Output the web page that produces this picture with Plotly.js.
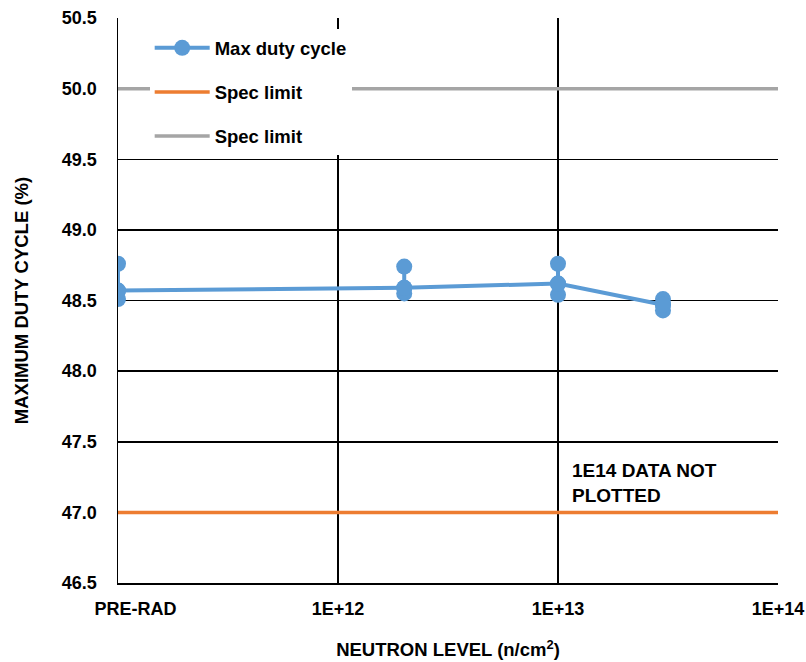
<!DOCTYPE html>
<html>
<head>
<meta charset="utf-8">
<script src="https://cdn.plot.ly/plotly-3.0.1.min.js"></script>
<style>html,body{margin:0;padding:0;background:#fff;}#chart{width:806px;height:662px;}</style>
</head>
<body>
<div id="chart"></div>
<script>
// Neutron levels (PRE-RAD plotted at 1E11)
const levels = [1e11, 2e12, 1e13, 3e13];
const unitHigh = [48.76, 48.74, 48.76, 48.51];
const unitMid  = [48.57, 48.59, 48.62, 48.47];
const unitLow  = [48.51, 48.55, 48.54, 48.43];
const specUpper = 50.0;
const specLower = 47.0;
const tickVals = [1e11, 1e12, 1e13, 1e14];
const tickText = ['PRE-RAD', '1E+12', '1E+13', '1E+14'];

const BLUE = '#5B9BD5', ORANGE = '#ED7D31', GRAY = '#A5A5A5';
const FONT = 'Liberation Sans, Arial, sans-serif';

// vertical connectors through each group's points
const vx = [], vy = [];
levels.forEach((lv, i) => {
  vx.push(lv, lv, lv, null);
  vy.push(unitHigh[i], unitMid[i], unitLow[i], null);
});

const traces = [
  {x: vx, y: vy, mode: 'lines+markers', showlegend: false, hoverinfo: 'skip',
   line: {color: BLUE, width: 4}, marker: {color: BLUE, size: 16}, connectgaps: false},
  {x: levels, y: unitMid, mode: 'lines+markers', name: 'Max duty cycle', legendgroup: 'a',
   line: {color: BLUE, width: 4}, marker: {color: BLUE, size: 16}},
  {x: [tickVals[0], tickVals[3]], y: [specLower, specLower], mode: 'lines', name: 'Spec limit', legendgroup: 'b',
   line: {color: ORANGE, width: 3.5}},
  {x: [tickVals[0], tickVals[3]], y: [specUpper, specUpper], mode: 'lines', name: 'Spec limit', legendgroup: 'c',
   line: {color: GRAY, width: 3.5}}
];

const padText = tickText.map((t, i) => i === 0 ? '\u00a0\u00a0\u00a0\u00a0\u00a0\u00a0\u00a0' + t : t);

const layout = {
  width: 806, height: 662,
  margin: {l: 118, r: 28, t: 18, b: 79},
  paper_bgcolor: '#fff', plot_bgcolor: '#fff',
  font: {family: FONT, size: 18, color: '#000', weight: 'bold'},
  xaxis: {
    type: 'log', range: [11, 14],
    tickvals: tickVals, ticktext: padText,
    showgrid: true, gridcolor: '#000', gridwidth: 1.5,
    showline: true, linecolor: '#000', linewidth: 1.5,
    ticks: '', ticklabelstandoff: 9, zeroline: false,
    tickfont: {family: FONT, size: 18, weight: 'bold'},
    title: {text: 'NEUTRON LEVEL (n/cm<sup>2</sup>)', font: {family: FONT, size: 18.5, weight: 'bold'}, standoff: 25}
  },
  yaxis: {
    range: [46.5, 50.5], dtick: 0.5, tick0: 46.5, tickformat: '.1f',
    showgrid: true, gridcolor: '#000', gridwidth: 1.5,
    showline: true, linecolor: '#000', linewidth: 1.5,
    ticks: '', ticklabelstandoff: 16, zeroline: false,
    tickfont: {family: FONT, size: 18, weight: 'bold'},
    title: {text: 'MAXIMUM DUTY CYCLE (%)', font: {family: FONT, size: 18.5, weight: 'bold'}, standoff: 28}
  },
  showlegend: true,
  legend: {
    x: 0.048, y: 0.98, xanchor: 'left', yanchor: 'top',
    bgcolor: '#fff', borderwidth: 0,
    traceorder: 'grouped', tracegroupgap: 17, itemwidth: 55,
    font: {family: FONT, size: 18.5, weight: 'bold'}
  },
  annotations: [{
    xref: 'x', yref: 'y', x: 13.055, y: 47.21, xanchor: 'left', yanchor: 'middle', align: 'left',
    text: '1E14 DATA NOT<br>PLOTTED', showarrow: false,
    font: {family: FONT, size: 19, weight: 'bold'}
  }]
};

Plotly.newPlot('chart', traces, layout, {displayModeBar: false, staticPlot: true});
</script>
</body>
</html>
